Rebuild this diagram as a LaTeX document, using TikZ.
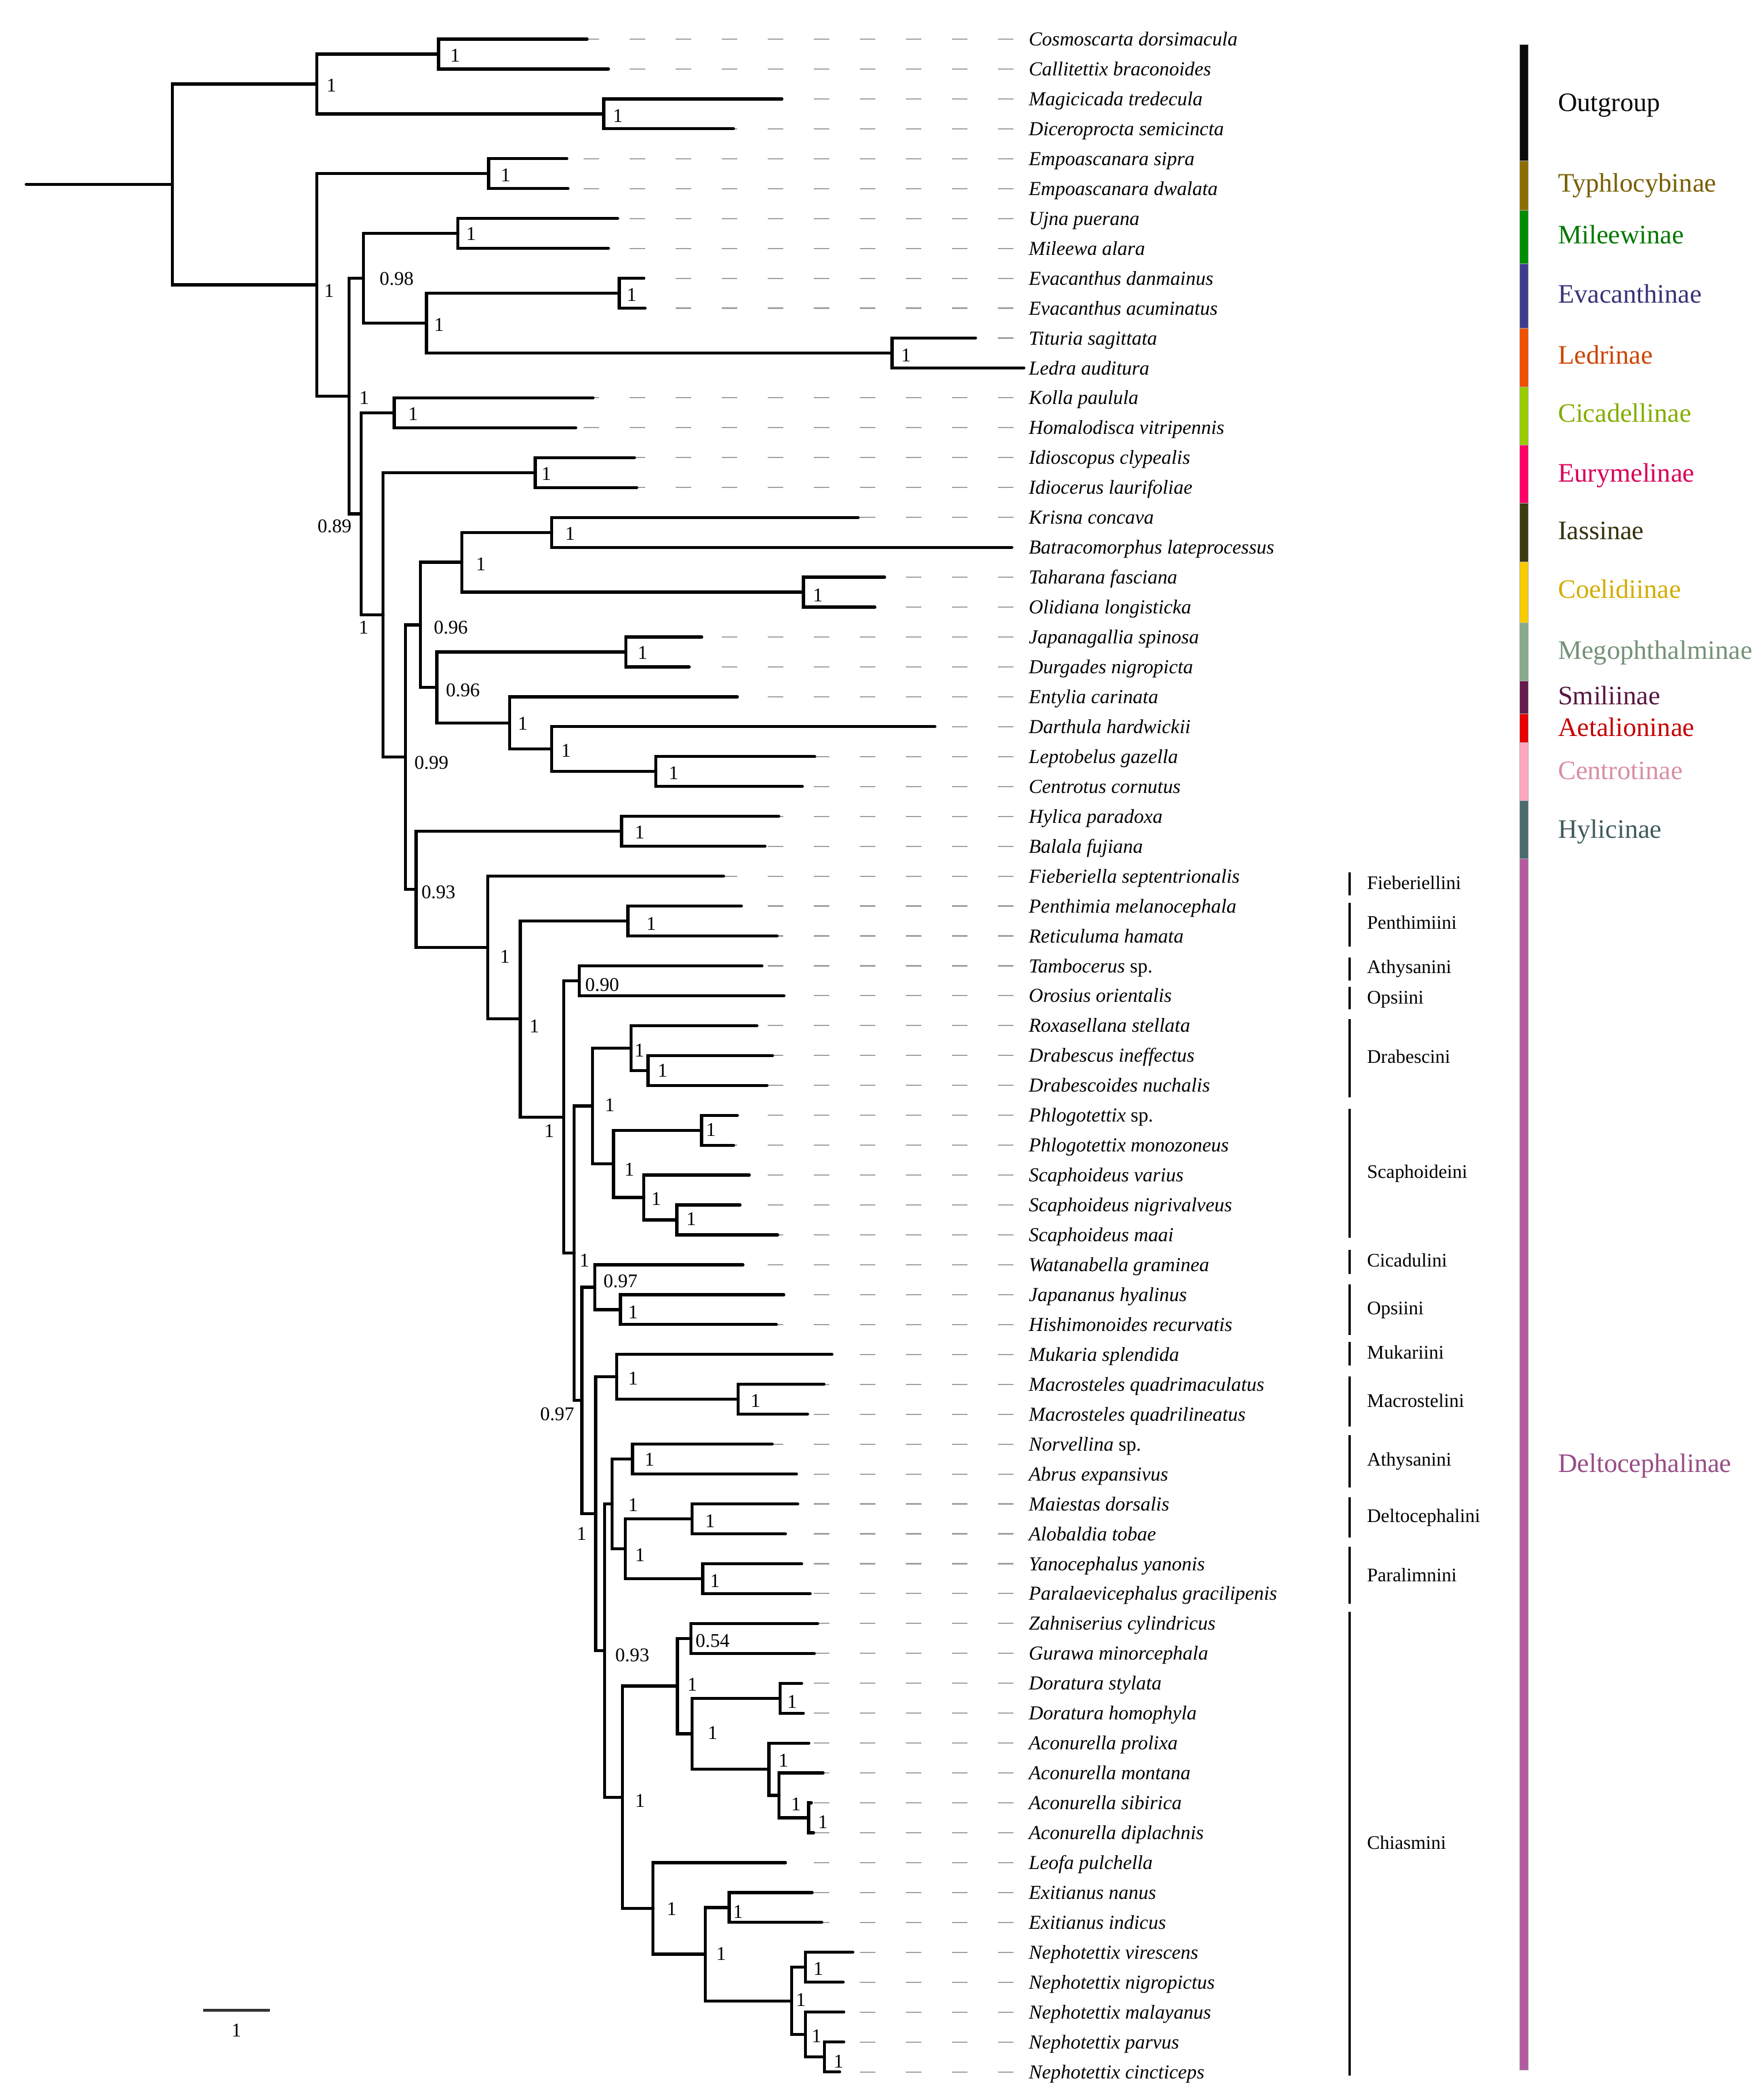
\documentclass[tikz,border=0pt]{standalone}
\usepackage{fontspec}
\setmainfont{Liberation Serif}
\definecolor{cOut}{HTML}{0A0A0A}
\definecolor{cTyp}{HTML}{8C6E00}
\definecolor{cMil}{HTML}{008C00}
\definecolor{cEva}{HTML}{3F3C8C}
\definecolor{cLed}{HTML}{F05000}
\definecolor{cCic}{HTML}{99CC00}
\definecolor{cEur}{HTML}{FF0066}
\definecolor{cIas}{HTML}{3C3C10}
\definecolor{cCoe}{HTML}{F8CC00}
\definecolor{cMeg}{HTML}{88AA8C}
\definecolor{cSmi}{HTML}{661A4D}
\definecolor{cAet}{HTML}{E80000}
\definecolor{cCen}{HTML}{FFA8BE}
\definecolor{cHyl}{HTML}{4B6B6E}
\definecolor{cDel}{HTML}{B35A9E}
\begin{document}
\begin{tikzpicture}[x=0.01cm,y=-0.5195cm,
  branch/.style={line width=1.5pt,line cap=round},
  guide/.style={color=gray!75,line width=0.6pt,dash pattern=on 0.27cm off 0.53cm},
  taxon/.style={anchor=base west,inner sep=0pt,yshift=-3.3pt,font=\fontsize{9.8}{11}\selectfont\itshape},
  support/.style={anchor=base west,inner sep=0pt,yshift=-3.2pt,font=\fontsize{9.6}{11}\selectfont},
  tribe/.style={anchor=base west,inner sep=0pt,yshift=-3.2pt,font=\fontsize{9.5}{11}\selectfont},
  clade/.style={anchor=base west,inner sep=0pt,yshift=-4.4pt,font=\fontsize{13.2}{15}\selectfont},
  bracket/.style={line width=1.1pt}]
\useasboundingbox (0,-0.309) rectangle (3066,69.74);

% tips: row / end of branch / name
\foreach \i/\x/\name in {1/1020.7/Cosmoscarta dorsimacula, 2/1057.9/Callitettix braconoides,
  3/1359.4/Magicicada tredecula, 4/1275.2/Diceroprocta semicincta,
  5/985.5/Empoascanara sipra, 6/987.6/Empoascanara dwalata,
  7/1073.9/Ujna puerana, 8/1057.8/Mileewa alara,
  9/1119.5/Evacanthus danmainus, 10/1121.6/Evacanthus acuminatus,
  11/1696/Tituria sagittata, 12/1780/Ledra auditura,
  13/1031/Kolla paulula, 14/1001/Homalodisca vitripennis,
  15/1103/Idioscopus clypealis, 16/1107/Idiocerus laurifoliae,
  17/1492/Krisna concava, 18/1759/Batracomorphus lateprocessus,
  19/1538/Taharana fasciana, 20/1521/Olidiana longisticka,
  21/1220/Japanagallia spinosa, 22/1198/Durgades nigropicta,
  23/1282/Entylia carinata, 24/1625.4/Darthula hardwickii,
  25/1416.4/Leptobelus gazella, 26/1395/Centrotus cornutus,
  27/1354/Hylica paradoxa, 28/1330/Balala fujiana,
  29/1258/Fieberiella septentrionalis, 30/1289/Penthimia melanocephala,
  31/1351/Reticuluma hamata, 32/1324.7/Tambocerus {\upshape sp.},
  33/1363/Orosius orientalis, 34/1316/Roxasellana stellata,
  35/1343/Drabescus ineffectus, 36/1333.5/Drabescoides nuchalis,
  37/1282/Phlogotettix {\upshape sp.}, 38/1275.6/Phlogotettix monozoneus,
  39/1302.7/Scaphoideus varius, 40/1286.6/Scaphoideus nigrivalveus,
  41/1352/Scaphoideus maai, 42/1291.7/Watanabella graminea,
  43/1362.7/Japananus hyalinus, 44/1349.8/Hishimonoides recurvatis,
  45/1446.4/Mukaria splendida, 46/1432.6/Macrosteles quadrimaculatus,
  47/1404/Macrosteles quadrilineatus, 48/1342.6/Norvellina {\upshape sp.},
  49/1384.7/Abrus expansivus, 50/1387/Maiestas dorsalis,
  51/1365.6/Alobaldia tobae, 52/1393.8/Yanocephalus yanonis,
  53/1408.6/Paralaevicephalus gracilipenis, 54/1421.6/Zahniserius cylindricus,
  55/1415.8/Gurawa minorcephala, 56/1393.8/Doratura stylata,
  57/1396.7/Doratura homophyla, 58/1406.3/Aconurella prolixa,
  59/1431/Aconurella montana, 60/1410.6/Aconurella sibirica,
  61/1414.4/Aconurella diplachnis, 62/1365.6/Leofa pulchella,
  63/1412/Exitianus nanus, 64/1428.7/Exitianus indicus,
  65/1482.8/Nephotettix virescens, 66/1466/Nephotettix nigropictus,
  67/1467/Nephotettix malayanus, 68/1467/Nephotettix parvus,
  69/1459.8/Nephotettix cincticeps}{
  \coordinate (t\i) at (\x,\i);
  \draw[guide] (1762,\i) -- (t\i);
  \node[taxon] (n\i) at (1788,\i) {\name};
}

% inner nodes
\coordinate (root) at (45.6,5.86);
\coordinate (A) at (299.5,5.86);
\coordinate (B) at (550.7,2.5);
\coordinate (C) at (762.5,1.5);
\coordinate (D) at (1049.5,3.5);
\coordinate (E) at (550.7,9.22);
\coordinate (F) at (849.5,5.5);
\coordinate (H) at (607,12.94);
\coordinate (I) at (632,9);
\coordinate (J) at (796.2,7.5);
\coordinate (K) at (741.5,10.5);
\coordinate (EV) at (1076.5,9.5);
\coordinate (TL) at (1551,11.5);
\coordinate (L) at (628,16.88);
\coordinate (M) at (685.4,13.5);
\coordinate (N) at (666.2,20.26);
\coordinate (O) at (930.5,15.5);
\coordinate (P) at (704.8,25.019);
\coordinate (Q) at (731,20.594);
\coordinate (R) at (803,18.5);
\coordinate (S) at (959.3,17.5);
\coordinate (T) at (1396.8,19.5);
\coordinate (U) at (759.5,22.6875);
\coordinate (V) at (1088,21.5);
\coordinate (W) at (885.8,23.875);
\coordinate (X) at (958.9,24.75);
\coordinate (Y) at (1140.3,25.5);
\coordinate (AA) at (723.3,29.445);
\coordinate (Z) at (1080.5,27.5);
\coordinate (AB) at (848,31.389);
\coordinate (AC) at (904.5,33.778);
\coordinate (AD) at (1091.5,30.5);
\coordinate (AE) at (980,37.057);
\coordinate (AF) at (1007.2,32.5);
\coordinate (AG) at (998.4,41.613);
\coordinate (AH) at (1030,36.6875);
\coordinate (AI) at (1097.4,34.75);
\coordinate (AJ) at (1126.7,35.5);
\coordinate (AK) at (1066.6,38.625);
\coordinate (AL) at (1219.8,37.5);
\coordinate (AM) at (1119.4,39.75);
\coordinate (AN) at (1176.6,40.5);
\coordinate (AO) at (1011.7,46.539);
\coordinate (AQ) at (1034.1,42.75);
\coordinate (AR) at (1078.6,43.5);
\coordinate (AS) at (1035.6,50.328);
\coordinate (AT) at (1072.4,45.75);
\coordinate (AU) at (1282.9,46.5);
\coordinate (AV) at (1050.9,54.906);
\coordinate (AW) at (1064.3,50);
\coordinate (AX) at (1099.7,48.5);
\coordinate (AY) at (1086.8,51.5);
\coordinate (AZ) at (1203,50.5);
\coordinate (BA) at (1221.6,52.5);
\coordinate (BB) at (1082,59.8125);
\coordinate (BC) at (1177.6,56.094);
\coordinate (BD) at (1201.5,54.5);
\coordinate (BE) at (1203,57.6875);
\coordinate (BF) at (1356,56.5);
\coordinate (BG) at (1336.9,58.875);
\coordinate (BH) at (1354.6,59.75);
\coordinate (BI) at (1405.8,60.5);
\coordinate (BJ) at (1135.5,63.531);
\coordinate (BK) at (1226.4,65.0625);
\coordinate (BL) at (1267.6,63.5);
\coordinate (BM) at (1376.1,66.625);
\coordinate (BN) at (1400,65.5);
\coordinate (BO) at (1400,67.75);
\coordinate (BP) at (1433.5,68.5);

\draw[branch] (root) -- (A);
\foreach \p/\c in {A/B,A/E,B/C,B/D,C/t1,C/t2,D/t3,D/t4,
  E/F,E/H,F/t5,F/t6,H/I,H/L,
  I/J,I/K,J/t7,J/t8,K/EV,K/TL,EV/t9,EV/t10,TL/t11,TL/t12,
  L/M,L/N,M/t13,M/t14,N/O,N/P,O/t15,O/t16,
  P/Q,P/AA,Q/R,Q/U,R/S,R/T,S/t17,S/t18,T/t19,T/t20,
  U/V,U/W,V/t21,V/t22,W/t23,W/X,X/t24,X/Y,Y/t25,Y/t26,
  AA/Z,AA/AB,Z/t27,Z/t28,AB/t29,AB/AC,
  AC/AD,AC/AE,AD/t30,AD/t31,AE/AF,AE/AG,AF/t32,AF/t33,
  AG/AH,AG/AO,AH/AI,AH/AK,AI/t34,AI/AJ,AJ/t35,AJ/t36,
  AK/AL,AK/AM,AL/t37,AL/t38,AM/t39,AM/AN,AN/t40,AN/t41,
  AO/AQ,AO/AS,AQ/t42,AQ/AR,AR/t43,AR/t44,
  AS/AT,AS/AV,AT/t45,AT/AU,AU/t46,AU/t47,
  AV/AW,AV/BB,AW/AX,AW/AY,AX/t48,AX/t49,AY/AZ,AY/BA,AZ/t50,AZ/t51,BA/t52,BA/t53,
  BB/BC,BB/BJ,BC/BD,BC/BE,BD/t54,BD/t55,BE/BF,BE/BG,BF/t56,BF/t57,
  BG/t58,BG/BH,BH/t59,BH/BI,BI/t60,BI/t61,
  BJ/t62,BJ/BK,BK/BL,BK/BM,BL/t63,BL/t64,
  BM/BN,BM/BO,BN/t65,BN/t66,BO/t67,BO/BP,BP/t68,BP/t69}
  \draw[branch] (\p) |- (\c);

% support values
\foreach \nm/\x/\y/\v in {B/567/2.536/1, C/782/1.547/1, D/1065/3.558/1, F/870/5.551/1,
  E/563/9.412/1, J/810/7.52/1, I/659.4/9.006/0.98, K/754/10.548/1, EV/1089/9.547/1,
  TL/1566/11.568/1, H/624/13.002/1, L/551.4/17.295/0.89, N/623/20.673/1,
  M/709/13.541/1, O/940.6/15.541/1, R/827/18.552/1, S/982/17.535/1,
  Q/753.5/20.684/0.96, U/774.5/22.771/0.96, W/899.7/23.888/1, X/975/24.804/1,
  P/719.8/25.196/0.99, T/1412.7/19.595/1, V/1108/21.52/1, Y/1162/25.55/1,
  Z/1103/27.526/1, AA/732/29.524/0.93, AB/868.6/31.683/1, AD/1123/30.596/1,
  AC/920/34.013/1, AF/1016.7/32.64/0.90, AE/945.6/37.512/1, AH/1051/36.661/1,
  AI/1102.5/34.827/1, AJ/1142.8/35.491/1, AL/1227/37.477/1, AK/1085/38.806/1,
  AM/1131.8/39.799/1, AN/1192.7/40.461/1, AG/1007/41.843/1, AQ/1048.5/42.55/0.97,
  AR/1091.5/43.591/1, AO/938.5/46.999/0.97, AT/1091.5/45.801/1, AU/1304.4/46.557/1,
  AS/1002/50.991/1, AX/1120/48.521/1, AW/1091.5/50.024/1, AZ/1225.5/50.565/1,
  AY/1103.5/51.712/1, BA/1234/52.569/1, AV/1069/55.052/0.93, BD/1208.7/54.571/0.54,
  BC/1194.4/56.034/1, BF/1368/56.611/1, BE/1230/57.664/1, BG/1353/58.571/1,
  BH/1374.7/60.038/1, BI/1421.6/60.64/1, BB/1103.5/59.932/1, BJ/1158.5/63.541/1,
  BL/1274/63.633/1, BK/1244.6/65.041/1, BN/1413.5/65.539/1, BM/1383.3/66.582/1,
  BO/1410.6/67.806/1, BP/1448.8/68.65/1}
  \node[support] (s\nm) at (\x,\y) {\v};

% subfamilies
\foreach \a/\b/\c/\m/\name [count=\k] in {1.174/5.075/cOut/3.127/Outgroup,
  5.075/6.731/cTyp/5.822/Typhlocybinae, 6.731/8.521/cMil/7.554/Mileewinae,
  8.521/10.671/cEva/9.527/Evacanthinae, 10.671/12.631/cLed/11.577/Ledrinae,
  12.631/14.571/cCic/13.522/Cicadellinae, 14.571/16.53/cEur/15.514/Eurymelinae,
  16.53/18.49/cIas/17.449/Iassinae, 18.49/20.527/cCoe/19.412/Coelidiinae,
  20.527/22.467/cMeg/21.443/Megophthalminae, 22.467/23.572/cSmi/22.964/Smiliinae,
  23.572/24.523/cAet/24.022/Aetalioninae, 24.523/26.482/cCen/25.466/Centrotinae,
  26.482/28.423/cHyl/27.429/Hylicinae, 28.423/68.93/cDel/48.651/Deltocephalinae}{
  \fill[\c,draw=gray!60,line width=0.2pt] (2642,\a) rectangle (2657,\b);
  \node[clade,text=\c!85!black] (g\k) at (2708,\m) {\name};
}

% tribes
\foreach \a/\b/\m/\name [count=\k] in {28.866/29.643/29.216/Fieberiellini,
  29.888/31.364/30.559/Penthimiini, 31.714/32.492/32.03/Athysanini,
  32.704/33.455/33.058/Opsiini, 33.782/36.39/35.046/Drabescini,
  36.792/41.093/38.882/Scaphoideini, 41.495/42.301/41.847/Cicadulini,
  42.652/44.344/43.456/Opsiini, 44.58/45.366/44.935/Mukariini,
  45.735/47.406/46.544/Macrostelini, 47.699/49.45/48.507/Athysanini,
  49.772/51.116/50.39/Deltocephalini, 51.433/53.347/52.376/Paralimnini,
  53.608/69.125/61.327/Chiasmini}{
  \draw[bracket] (2346,\a) -- (2346,\b);
  \node[tribe] (tr\k) at (2376,\m) {\name};
}

% scale bar
\coordinate (s0) at (353,66.93);
\coordinate (s1) at (469,66.93);
\draw[line width=1.4pt,color=black!80] (s0) -- (s1);
\node[support,anchor=base] (sl) at (411,67.6) {1};
\end{tikzpicture}
\end{document}
